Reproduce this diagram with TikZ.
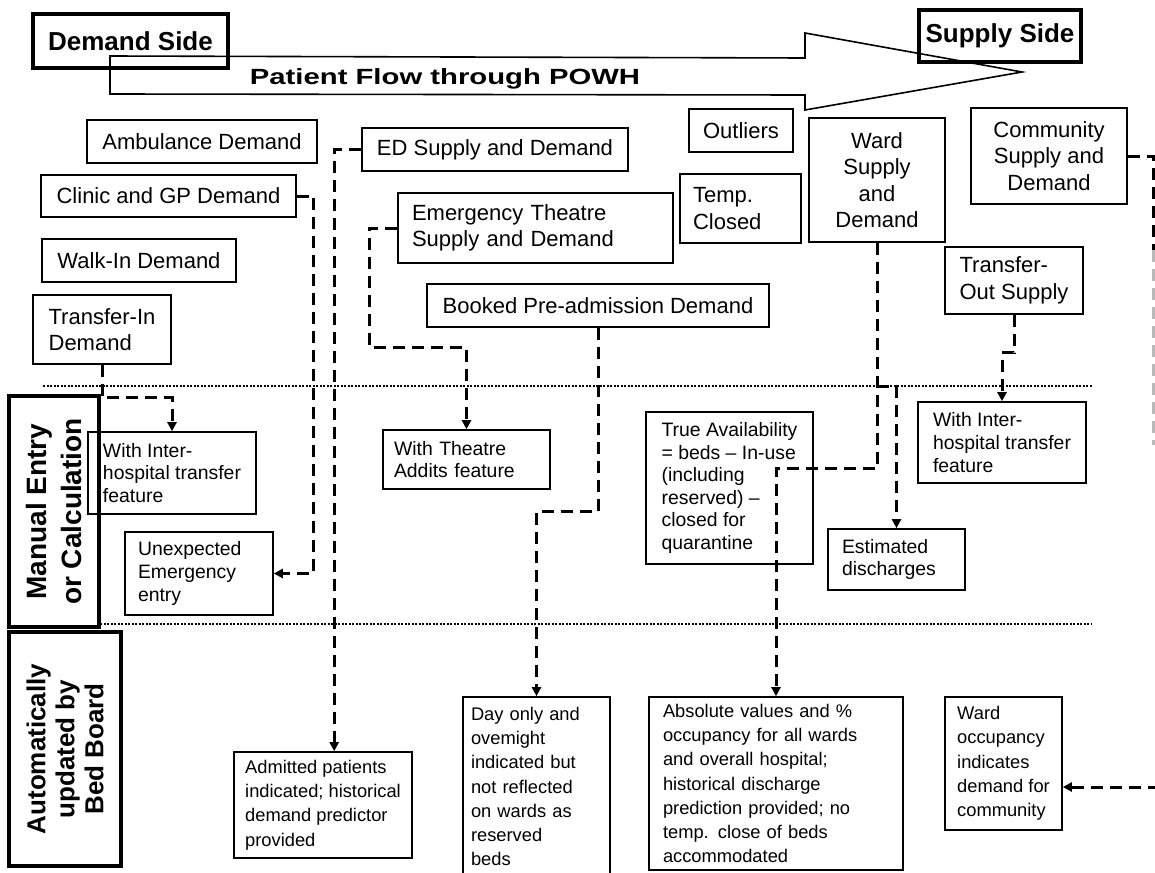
\documentclass[tikz,border=0pt]{standalone}
\usepackage{fontspec}
\setmainfont{Liberation Sans}
\usetikzlibrary{arrows.meta,calc}
\begin{document}
\begin{tikzpicture}[x=1pt,y=-1pt,
  box/.style={draw, line width=1.6pt, inner sep=0pt, align=left},
  hdrbox/.style={draw, line width=3.5pt, inner sep=0pt, align=center, font=\fontsize{26}{31}\selectfont\bfseries},
  ft/.style={font=\fontsize{22}{26.5}\selectfont},
  fs/.style={font=\fontsize{19.4}{22.6}\selectfont},
  fb/.style={font=\fontsize{18.3}{24.3}\selectfont},
  conn/.style={line width=3pt, dash pattern=on 12pt off 7pt},
  arr/.style={conn, -{Triangle[length=9pt,width=9pt]}},
  sepline/.style={line width=2pt, dash pattern=on 2pt off 1.5pt},
]
\useasboundingbox (0,0) rectangle (1155,872);
\fill[white] (0,0) rectangle (1155,872);
\clip (0,0) rectangle (1155,872);

% header and flow arrow
\draw[line width=1.6pt, line join=miter] (110,56) -- (805,58) -- (805,33) -- (1022,72) -- (805,110) -- (805,95) -- (110,94) -- cycle;
\node[hdrbox, minimum width=195pt, minimum height=54pt] (demand) at (130.5,41) {Demand Side};
\node[hdrbox, minimum width=162pt, minimum height=52pt] (supply) at (1000,36) {Supply Side};
\node[font=\fontsize{22}{26}\selectfont\bfseries, xscale=1.33, inner sep=0pt] (flow) at (445,79) {Patient Flow through POWH};

% top boxes
\node[box, ft, minimum width=230pt, minimum height=43pt] (amb) at (202,141.5) {Ambulance Demand};
\node[box, ft, minimum width=255pt, minimum height=42pt] (clinic) at (168.5,196) {Clinic and GP Demand};
\node[box, ft, minimum width=194pt, minimum height=43pt] (walk) at (139,260.5) {Walk-In Demand};
\node[box, ft, minimum width=138pt, minimum height=69pt] (tin) at (102,329.5) {Transfer-In\\Demand};
\node[box, ft, minimum width=266pt, minimum height=43pt] (ed) at (495,149.5) {ED Supply and Demand};
\node[box, ft, inner xsep=14pt, text width=247pt, minimum height=70pt] (et) at (535.5,228) {Emergency Theatre\\Supply and Demand};
\node[box, ft, minimum width=342pt, minimum height=43pt] (booked) at (598,305.5) {Booked Pre-admission Demand};
\node[box, ft, minimum width=104pt, minimum height=43pt] (outl) at (741,130.5) {Outliers};
\node[box, ft, inner xsep=13pt, text width=95pt, minimum height=69pt] (temp) at (740.5,208.5) {Temp.\\Closed};
\node[box, ft, align=center, minimum width=136pt, minimum height=124pt] (ward) at (877,180) {Ward\\Supply\\and\\Demand};
\node[box, ft, align=center, minimum width=156pt, minimum height=96pt] (comm) at (1049,156) {Community\\Supply and\\Demand};
\node[box, ft, minimum width=138pt, minimum height=67pt] (tout) at (1014,280.5) {Transfer-\\Out Supply};

% separators
\draw[sepline] (43,386) -- (1092,386);
\draw[sepline] (100,624) -- (1092,624);

% side labels
\node[hdrbox, rotate=90, minimum width=231pt, minimum height=90pt, font=\fontsize{28}{35}\selectfont\bfseries] (mec) at (54,511.5) {Manual Entry\\or Calculation};
\node[hdrbox, rotate=90, minimum width=234pt, minimum height=112pt, font=\fontsize{26}{29}\selectfont\bfseries] (auto) at (65,749) {Automatically\\updated by\\Bed Board};

% middle boxes
\node[box, fs, minimum width=168pt, minimum height=82pt] (wih1) at (172,473) {With Inter-\\hospital transfer\\feature};
\node[box, fs, inner xsep=13pt, text width=122pt, minimum height=83pt] (unexp) at (199,573.5) {Unexpected\\Emergency\\entry};
\node[box, fs, inner xsep=11pt, text width=145pt, minimum height=59pt] (wta) at (466.5,459.5) {With Theatre\\Addits feature};
\node[box, fs, minimum width=167pt, minimum height=152pt] (trueav) at (729.5,488) {True Availability\\= beds – In-use\\(including\\reserved) –\\closed for\\quarantine};
\node[box, fs, inner xsep=14pt, text width=109pt, minimum height=61pt] (est) at (896.5,559.5) {Estimated\\discharges};
\node[box, fs, minimum width=168pt, minimum height=81pt] (wih2) at (1002,442.5) {With Inter-\\hospital transfer\\feature};

% bottom boxes
\node[box, fb, minimum width=178pt, minimum height=106pt] (adm) at (323,805) {Admitted patients\\indicated; historical\\demand predictor\\provided};
\node[box, fb, inner xsep=8pt, text width=131pt, minimum height=179pt] (dayonly) at (536.5,786.5) {Day only and\\ovemight\\indicated but\\not reflected\\on wards as\\reserved\\beds};
\node[box, fb, inner xsep=14pt, text width=226pt, minimum height=173pt] (abs) at (776,783.5) {Absolute values and \%\\occupancy for all wards\\and overall hospital;\\historical discharge\\prediction provided; no\\temp. close of beds\\accommodated};
\node[box, fb, minimum width=117pt, minimum height=133pt] (wocc) at (1003.5,763.5) {Ward\\occupancy\\indicates\\demand for\\community};

% connectors
\draw[arr] (ed.west) -- ++(-27,0) coordinate (edc) -- (edc |- adm.north);
\draw[arr] (clinic.east) -- ++(17,0) coordinate (clc) -- (clc |- unexp.east) -- (unexp.east);
\draw[arr] (tin.south) -- ++(0,33) -| (wih1.north);
\draw[arr] (et.west) -- ++(-28,0) -- ++(0,119) -| (wta.north);
\draw[arr] (booked.south) -- ++(0,184) -| (dayonly.north);
\draw[arr] (ward.south) -- ++(0,226) -| (abs.north);
\coordinate (wbr) at ($(ward.south)+(0,144)$);
\draw[arr] (wbr) -| (est.north);
\draw[arr] (tout.south) -- ++(0,38) -| (wih2.north);
\draw[conn] (comm.east) -- ++(26,0) coordinate (cc) -- ++(0,94) coordinate (cg);
\draw[conn, gray!55] (cg) -- ++(0,195);
\coordinate (cin) at (1160,787);
\draw[arr] (cin) -- (cin -| wocc.east);
\end{tikzpicture}
\end{document}
